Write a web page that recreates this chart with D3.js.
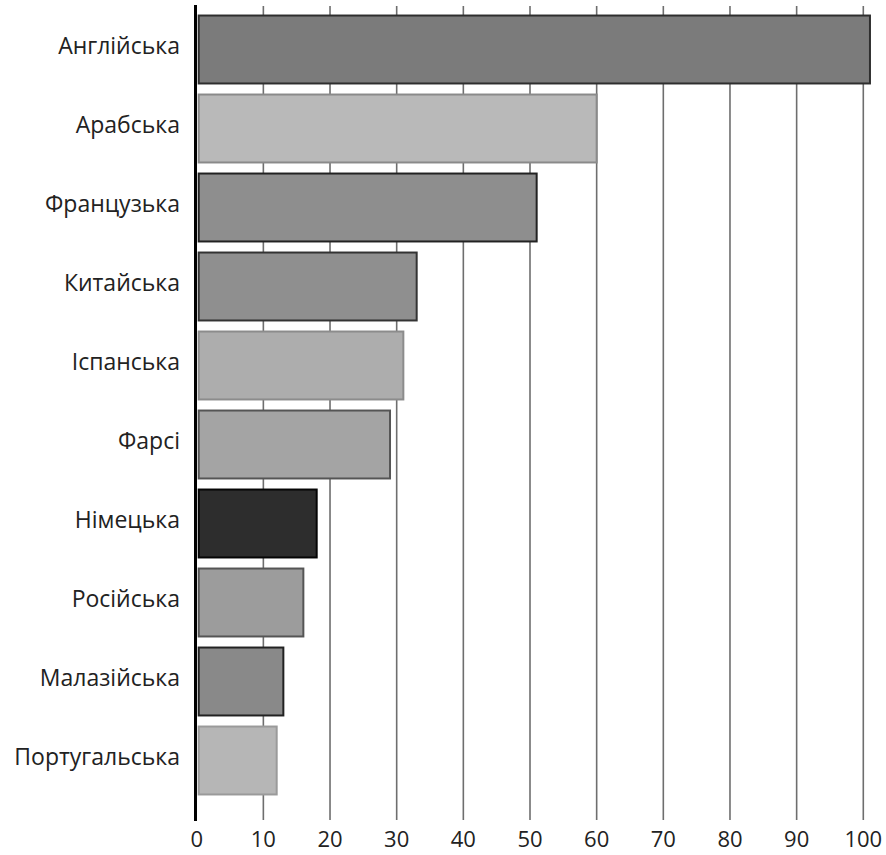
<!DOCTYPE html>
<html>
<head>
<meta charset="utf-8">
<script src="https://cdn.jsdelivr.net/npm/d3@7"></script>
<style>
  body { margin: 0; background: #fff; }
  svg { display: block; }
</style>
</head>
<body>
<script>
// мови та значення
const languages = ["Англійська", "Арабська", "Французька", "Китайська", "Іспанська",
  "Фарсі", "Німецька", "Російська", "Малазійська", "Португальська"];
const values = [101, 60, 51, 33, 31, 29, 18, 16, 13, 12];
const fills = ["#7b7b7b", "#b9b9b9", "#8e8e8e", "#8f8f8f", "#adadad",
  "#a4a4a4", "#2d2d2d", "#9c9c9c", "#898989", "#b6b6b6"];
const strokes = ["#2e2e2e", "#8a8a8a", "#222", "#333", "#8c8c8c",
  "#555", "#050505", "#555", "#222", "#9a9a9a"];
const xTicks = [0, 10, 20, 30, 40, 50, 60, 70, 80, 90, 100];

const w = 886;
const h = 855;

const svg = d3.select("body")
  .append("svg")
  .attr("width", w)
  .attr("height", h);

const x = d3.scaleLinear().domain([0, 100]).range([196.7, 863.3]);
const y = d3.scaleBand().domain(languages).range([10, 800])
  .paddingInner(0.14).paddingOuter(0.07);

const plotTop = 5, plotBottom = 820;
const font = "'Open Sans', 'Noto Sans', sans-serif";

// вертикальна сітка
svg.append("g")
  .selectAll("line")
  .data(xTicks.slice(1))
  .enter()
    .append("line")
    .attr("x1", d => x(d))
    .attr("x2", d => x(d))
    .attr("y1", plotTop + 1)
    .attr("y2", plotBottom)
    .attr("stroke", "#6e6e6e")
    .attr("stroke-width", 1.6);

// смуги
const rows = languages.map((l, i) => ({ lang: l, v: values[i], fill: fills[i], stroke: strokes[i] }));

svg.append("g")
  .selectAll("rect")
  .data(rows)
  .enter()
    .append("rect")
    .attr("x", x(0) + 2)
    .attr("y", d => y(d.lang))
    .attr("width", d => x(d.v) - x(0) - 2)
    .attr("height", y.bandwidth())
    .attr("fill", d => d.fill)
    .attr("stroke", d => d.stroke)
    .attr("stroke-width", 2);

// вісь Y (лінія)
svg.append("line")
  .attr("x1", 195.5).attr("x2", 195.5)
  .attr("y1", plotTop).attr("y2", plotBottom + 1)
  .attr("stroke", "#000")
  .attr("stroke-width", 3);

// підписи категорій
svg.append("g")
  .selectAll("text")
  .data(languages)
  .enter()
    .append("text")
    .attr("x", 180)
    .attr("y", d => y(d) + y.bandwidth() / 2 + 4.5)
    .attr("text-anchor", "end")
    .attr("font-family", font)
    .attr("font-size", 23)
    .attr("fill", "#222")
    .text(d => d);

// підписи осі X
svg.append("g")
  .selectAll("text")
  .data(xTicks)
  .enter()
    .append("text")
    .attr("x", d => x(d))
    .attr("y", 847)
    .attr("text-anchor", "middle")
    .attr("font-family", font)
    .attr("font-size", 22)
    .attr("fill", "#222")
    .text(d => d);
</script>
</body>
</html>
